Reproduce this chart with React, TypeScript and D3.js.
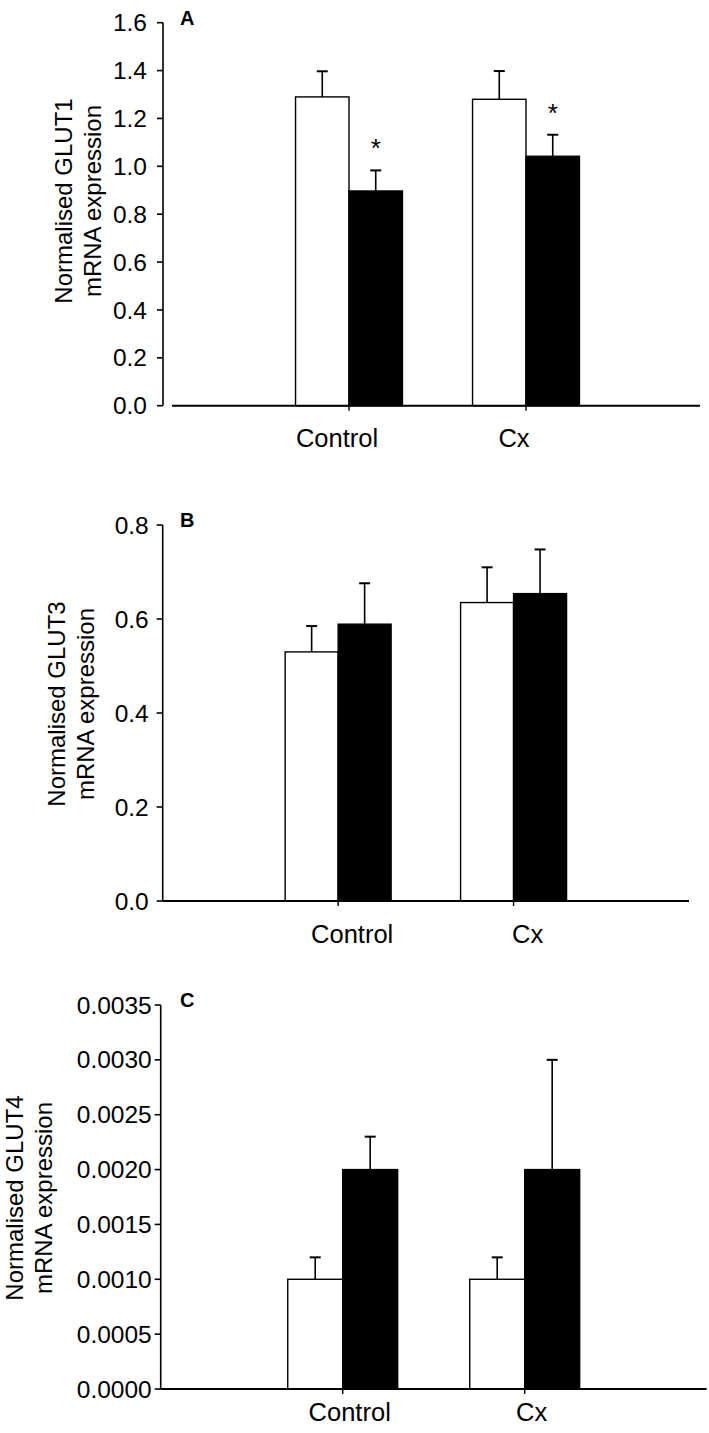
import React from "react";
import * as d3 from "d3";

const categories = ["Control", "Cx"];

// Panel A: GLUT1
const glut1Sham = [1.29, 1.28];
const glut1ShamErr = [0.107, 0.118];
const glut1Treat = [0.897, 1.042];
const glut1TreatErr = [0.086, 0.09];
const glut1Sig = [true, true];
const glut1Ticks = [0, 0.2, 0.4, 0.6, 0.8, 1.0, 1.2, 1.4, 1.6];

// Panel B: GLUT3
const glut3Sham = [0.53, 0.635];
const glut3ShamErr = [0.055, 0.075];
const glut3Treat = [0.589, 0.654];
const glut3TreatErr = [0.087, 0.094];
const glut3Sig = [false, false];
const glut3Ticks = [0, 0.2, 0.4, 0.6, 0.8];

// Panel C: GLUT4
const glut4Sham = [0.001, 0.001];
const glut4ShamErr = [0.0002, 0.0002];
const glut4Treat = [0.002, 0.002];
const glut4TreatErr = [0.0003, 0.001];
const glut4Sig = [false, false];
const glut4Ticks = [0, 0.0005, 0.001, 0.0015, 0.002, 0.0025, 0.003, 0.0035];

const FONT = "'Liberation Sans', Arial, Helvetica, sans-serif";

type PanelProps = {
  letter: string;
  gene: string;
  sham: number[];
  shamErr: number[];
  treat: number[];
  treatErr: number[];
  sig: boolean[];
  ticks: number[];
  fmt: string;
  axisX: number;
  top: number;
  bottom: number;
  xStart: number;
  xEnd: number;
  axisLineStart: number;
  axisLineEnd: number;
  labelCenterY: number;
  labelBaseX: number;
  catOffset: number;
  catDy: number;
  tickGap: number;
};

function Panel(p: PanelProps) {
  const yMax = p.ticks[p.ticks.length - 1];
  const y = d3.scaleLinear().domain([0, yMax]).range([p.bottom, p.top]);
  const x = d3
    .scalePoint<string>()
    .domain(["_l", ...categories, "_r"])
    .range([p.xStart, p.xEnd]);
  const bw = x.step() * 0.302;
  const f = d3.format(p.fmt);
  const capW = 5.5;

  const series = [
    { vals: p.sham, errs: p.shamErr, fill: "#fff" },
    { vals: p.treat, errs: p.treatErr, fill: "#000" },
  ];

  return (
    <g>
      {series.map((s, si) =>
        categories.map((c, i) => {
          const cx = x(c)!;
          const x0 = si === 0 ? cx - bw : cx;
          const mid = x0 + bw / 2;
          const yt = y(s.vals[i]);
          const ye = y(s.vals[i] + s.errs[i]);
          return (
            <g key={`${si}-${c}`}>
              <line x1={mid} x2={mid} y1={yt} y2={ye} stroke="#000" strokeWidth={1.6} />
              <line x1={mid - capW} x2={mid + capW} y1={ye} y2={ye} stroke="#000" strokeWidth={2} />
              <rect
                x={x0}
                y={yt}
                width={bw}
                height={p.bottom - yt}
                fill={s.fill}
                stroke="#000"
                strokeWidth={1.4}
              />
              {si === 1 && p.sig[i] ? (
                <text
                  x={mid}
                  y={ye - 13}
                  textAnchor="middle"
                  fontFamily={FONT}
                  fontSize={26}
                  fill="#000"
                >
                  *
                </text>
              ) : null}
            </g>
          );
        })
      )}
      <line x1={p.axisX} x2={p.axisX} y1={p.top} y2={p.bottom} stroke="#000" strokeWidth={1.6} />
      {p.ticks.map((t) => (
        <g key={t}>
          <line x1={p.axisX - 6} x2={p.axisX} y1={y(t)} y2={y(t)} stroke="#000" strokeWidth={1.6} />
          <text
            x={p.axisX - p.tickGap}
            y={y(t)}
            dy="0.35em"
            textAnchor="end"
            fontFamily={FONT}
            fontSize={24.5}
            fill="#000"
          >
            {f(t)}
          </text>
        </g>
      ))}
      <line
        x1={p.axisLineStart}
        x2={p.axisLineEnd}
        y1={p.bottom}
        y2={p.bottom}
        stroke="#000"
        strokeWidth={2}
      />
      {categories.map((c) => (
        <g key={c}>
          <line x1={x(c)!} x2={x(c)!} y1={p.bottom} y2={p.bottom + 5} stroke="#000" strokeWidth={1.4} />
          <text
            x={x(c)! + p.catOffset}
            y={p.bottom + p.catDy}
            textAnchor="middle"
            fontFamily={FONT}
            fontSize={25.5}
            fill="#000"
          >
            {c}
          </text>
        </g>
      ))}
      <text x={180} y={p.top + 2} fontFamily={FONT} fontSize={20} fontWeight="bold" fill="#000">
        {p.letter}
      </text>
      <text
        transform={`translate(${p.labelBaseX},${p.labelCenterY}) rotate(-90)`}
        textAnchor="middle"
        fontFamily={FONT}
        fontSize={24}
        fill="#000"
      >
        <tspan x={0} y={0}>{`Normalised ${p.gene}`}</tspan>
        <tspan x={0} y={29}>mRNA expression</tspan>
      </text>
    </g>
  );
}

export default function App() {
  return (
    <svg
      width={709}
      height={1433}
      style={{ position: "absolute", left: 0, top: 0, background: "#fff" }}
    >
      <rect width={709} height={1433} fill="#fff" />
      <Panel
        letter="A"
        gene="GLUT1"
        sham={glut1Sham}
        shamErr={glut1ShamErr}
        treat={glut1Treat}
        treatErr={glut1TreatErr}
        sig={glut1Sig}
        ticks={glut1Ticks}
        fmt=".1f"
        axisX={163}
        top={22.7}
        bottom={405.7}
        xStart={172}
        xEnd={703}
        axisLineStart={172}
        axisLineEnd={700}
        labelCenterY={201}
        labelBaseX={71.5}
        catOffset={-12}
        catDy={41}
        tickGap={16}
      />
      <Panel
        letter="B"
        gene="GLUT3"
        sham={glut3Sham}
        shamErr={glut3ShamErr}
        treat={glut3Treat}
        treatErr={glut3TreatErr}
        sig={glut3Sig}
        ticks={glut3Ticks}
        fmt=".1f"
        axisX={162.7}
        top={525}
        bottom={901}
        xStart={162.7}
        xEnd={689}
        axisLineStart={162.7}
        axisLineEnd={689}
        labelCenterY={704}
        labelBaseX={65}
        catOffset={14}
        catDy={42}
        tickGap={14}
      />
      <Panel
        letter="C"
        gene="GLUT4"
        sham={glut4Sham}
        shamErr={glut4ShamErr}
        treat={glut4Treat}
        treatErr={glut4TreatErr}
        sig={glut4Sig}
        ticks={glut4Ticks}
        fmt=".4f"
        axisX={160.7}
        top={1005}
        bottom={1389}
        xStart={160.7}
        xEnd={706.7}
        axisLineStart={160.7}
        axisLineEnd={706.7}
        labelCenterY={1198}
        labelBaseX={23}
        catOffset={7}
        catDy={32}
        tickGap={9}
      />
    </svg>
  );
}
